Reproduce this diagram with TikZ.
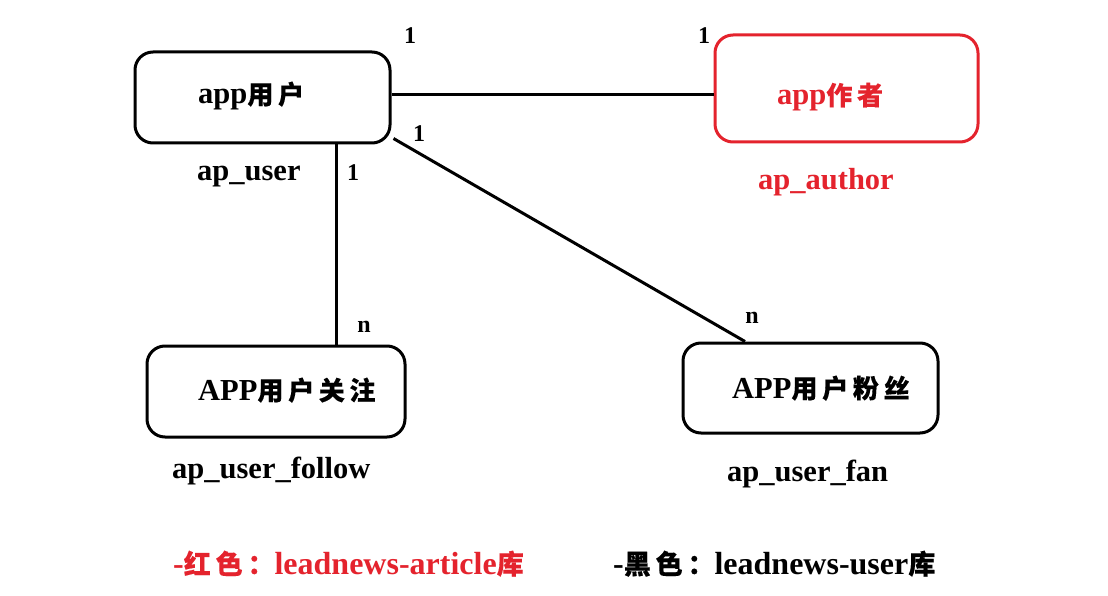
\documentclass[tikz,border=0pt]{standalone}
\usepackage{fontspec}
\setmainfont{Liberation Serif}
\newfontfamily\cjk{Noto Sans CJK SC}[LetterSpace=18,FakeBold=0.3]
\definecolor{erred}{RGB}{228,35,45}
\newcommand\zh[1]{{\cjk\fontsize{26}{30}\selectfont #1}}
\newcommand\zhL[1]{{\cjk\fontsize{27}{30}\selectfont #1}}
\tikzset{
  box/.style={draw, line width=3pt, rounded corners=18pt, inner sep=0pt},
  lbl/.style={font=\bfseries\fontsize{30.5}{34}\selectfont, inner sep=0pt, anchor=base west},
  card/.style={font=\bfseries\fontsize{24}{28}\selectfont, inner sep=0pt},
  leg/.style={font=\bfseries\fontsize{32}{36}\selectfont, inner sep=0pt, anchor=base west},
  conn/.style={line width=3pt}
}
\begin{document}
\begin{tikzpicture}[x=1pt,y=-1pt]
\useasboundingbox (0,0) rectangle (1108,596);
\fill[white] (0,0) rectangle (1108,596);
% boxes
\node[box, minimum width=255pt, minimum height=91pt] (user) at (262.5,97.5) {};
\node[box, draw=erred, minimum width=263pt, minimum height=107pt] (author) at (846.5,88.5) {};
\node[box, minimum width=258pt, minimum height=91pt] (follow) at (276,391.5) {};
\node[box, minimum width=255pt, minimum height=90pt] (fan) at (810.5,388) {};
% box texts
\node[lbl] (tuser) at (198,104) {app\zh{用户}};
\node[lbl, text=erred] (tauthor) at (777,105) {app\zh{作者}};
\node[lbl] (tfollow) at (198,400) {APP\zh{用户关注}};
\node[lbl] (tfan) at (732,398) {APP\zh{用户粉丝}};
% table names
\node[lbl] (nuser) at (197,181) {ap\_user};
\node[lbl, text=erred] (nauthor) at (758,190) {ap\_author};
\node[lbl] (nfollow) at (172,478) {ap\_user\_follow};
\node[lbl] (nfan) at (727,481) {ap\_user\_fan};
% connectors
\draw[conn] ([yshift=3pt]user.east) -- ([yshift=3pt]user.east -| author.west);
\draw[conn] ([xshift=73.5pt]user.south) -- ([xshift=73.5pt]user.south |- follow.north);
\draw[conn] ([shift={(2pt,6pt)}]user.south east) -- ([xshift=-65.5pt]fan.north);
% cardinalities
\node[card] (c1) at (410,36) {1};
\node[card] (c2) at (704,36) {1};
\node[card] (c3) at (419,134) {1};
\node[card] (c4) at (353,173) {1};
\node[card] (c5) at (364,327) {n};
\node[card] (c6) at (752,318) {n};
% legend
\node[leg, text=erred] (legred) at (173,574) {-\zhL{红色：}leadnews-article\zhL{库}};
\node[leg] (legblack) at (613,574) {-\zhL{黑色：}leadnews-user\zhL{库}};
\end{tikzpicture}
\end{document}
